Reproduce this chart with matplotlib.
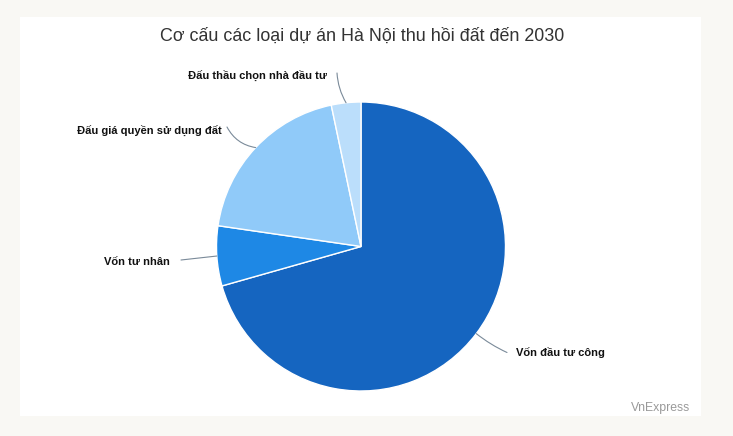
import numpy as np
import matplotlib
matplotlib.use('Agg')
from matplotlib import pyplot as plt
from matplotlib.patches import Rectangle

plt.rcParams['font.family'] = ['Liberation Sans', 'DejaVu Sans']

# du lieu (ti le %, doc tu hinh)
labels = ['Vốn đầu tư công', 'Vốn tư nhân', 'Đấu giá quyền sử dụng đất', 'Đấu thầu chọn nhà đầu tư']
shares = [70.6, 6.7, 19.4, 3.3]
colors = ['#1565c0', '#1e88e5', '#90caf9', '#bbdefb']

W, H = 733, 436
fig = plt.figure(figsize=(W / 100, H / 100), dpi=100, facecolor='#f9f8f4')
ax = fig.add_axes([0, 0, 1, 1])
ax.set_xlim(0, W)
ax.set_ylim(0, H)
ax.set_aspect('equal')
ax.axis('off')


def up(y):
    # toa do pixel (tu tren xuong) -> toa do truc
    return H - y


# khung trang
ax.add_patch(Rectangle((20, up(416)), 681, 399, facecolor='white', edgecolor='none', zorder=0))

cx, cy, r = 361, up(246.5), 144.5
wedges, _ = ax.pie(shares, colors=colors, startangle=90, counterclock=False,
                   center=(cx, cy), radius=r, frame=True,
                   wedgeprops=dict(edgecolor='white', linewidth=1.0))
ax.set_xlim(0, W)
ax.set_ylim(0, H)
ax.axis('off')

# vi tri nhan: (x dau nhan, y, canh le, diem cuoi duong noi, do cong)
label_pos = [
    (516, 353, 'left', (507, 352.5), -0.06),
    (170, 262, 'right', (181, 260), 0.0),
    (222, 130, 'right', (227, 127), 0.25),
    (327, 75, 'right', (337, 73), 0.12),
]

for w, lab, (tx, ty, ha, (ex, ey), rad) in zip(wedges, labels, label_pos):
    mid = np.deg2rad((w.theta1 + w.theta2) / 2)
    px = cx + r * np.cos(mid)
    py = cy + r * np.sin(mid)
    ax.annotate('', xy=(px, py), xytext=(ex, up(ey)),
                arrowprops=dict(arrowstyle='-', color='#7a8a99', lw=0.8,
                                connectionstyle='arc3,rad=%s' % rad,
                                shrinkA=0, shrinkB=0))
    ax.text(tx, up(ty), lab, ha=ha, va='center', fontsize=8, fontweight='bold',
            color='#111111')

ax.text(362, up(36), 'Cơ cấu các loại dự án Hà Nội thu hồi đất đến 2030',
        ha='center', va='center', fontsize=12.9, color='#333333')
ax.text(690, up(408), 'VnExpress', ha='right', va='center', fontsize=8.8, color='#999999')

fig.savefig('out.png', dpi=100, facecolor=fig.get_facecolor())
